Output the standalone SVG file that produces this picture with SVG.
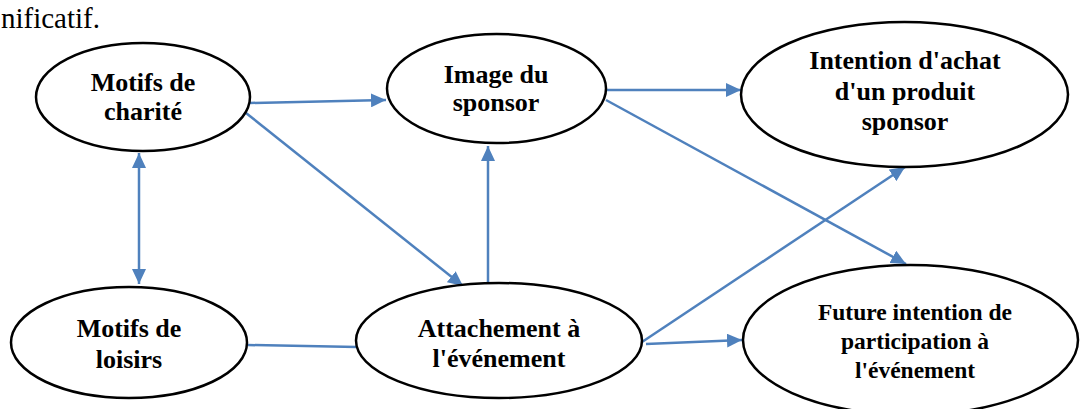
<svg xmlns="http://www.w3.org/2000/svg" width="1081" height="409" viewBox="0 0 1081 409">
  <style>
    .node ellipse { fill: #ffffff; stroke: #000000; stroke-width: 2.5; }
    .node text { font-family: "Liberation Serif", "Times New Roman", serif; font-weight: bold; font-size: 26px; fill: #000000; text-anchor: middle; }
    .node text.small { font-size: 23.5px; }
    .edge { stroke: #4f81bd; stroke-width: 2.5; fill: none; }
    .arrow { marker-end: url(#head); }
    .body { font-family: "Liberation Serif", "Times New Roman", serif; font-size: 29px; fill: #000000; }
  </style>
  <defs>
    <marker id="head" markerUnits="userSpaceOnUse" markerWidth="16" markerHeight="14" refX="15" refY="7" orient="auto-start-reverse">
      <path d="M0,0 L15,7 L0,14 z" fill="#4f81bd"/>
    </marker>
  </defs>

  <rect width="1081" height="409" fill="#ffffff"/>

  <!-- tail of the preceding paragraph -->
  <text class="body" x="100" y="28" text-anchor="end">nificatif.</text>

  <!-- connectors -->
  <g id="connectors">
    <line class="edge arrow" x1="250" y1="103" x2="386" y2="100"/>
    <line class="edge arrow" x1="246" y1="113" x2="463" y2="286"/>
    <line class="edge arrow" x1="139" y1="153" x2="139" y2="284" marker-start="url(#head)"/>
    <line class="edge" x1="248" y1="345" x2="357" y2="347"/>
    <line class="edge arrow" x1="488" y1="284" x2="488" y2="146"/>
    <line class="edge arrow" x1="606" y1="90" x2="741" y2="90"/>
    <line class="edge arrow" x1="606" y1="100" x2="906" y2="264"/>
    <line class="edge arrow" x1="642" y1="342" x2="905" y2="167"/>
    <line class="edge arrow" x1="646" y1="344" x2="742" y2="340"/>
  </g>

  <g id="motifs-charite" class="node">
    <ellipse cx="143" cy="97" rx="107" ry="54"/>
    <text x="143" y="91">Motifs de</text>
    <text x="143" y="120">charité</text>
  </g>

  <g id="image-sponsor" class="node">
    <ellipse cx="496.5" cy="88.5" rx="109.5" ry="54.5"/>
    <text x="496" y="83">Image du</text>
    <text x="496" y="111">sponsor</text>
  </g>

  <g id="intention-achat" class="node">
    <ellipse cx="904.5" cy="94.5" rx="163.5" ry="72.5"/>
    <text x="905" y="69">Intention d'achat</text>
    <text x="905" y="100">d'un produit</text>
    <text x="905" y="130">sponsor</text>
  </g>

  <g id="motifs-loisirs" class="node">
    <ellipse cx="129" cy="342.5" rx="118" ry="55.5"/>
    <text x="129" y="337">Motifs de</text>
    <text x="129" y="368">loisirs</text>
  </g>

  <g id="attachement" class="node">
    <ellipse cx="499" cy="340.5" rx="143" ry="57.5"/>
    <text x="499" y="337">Attachement à</text>
    <text x="499" y="367">l'événement</text>
  </g>

  <g id="future-intention" class="node">
    <ellipse cx="910.5" cy="340" rx="167.5" ry="75"/>
    <text class="small" x="915" y="320">Future intention de</text>
    <text class="small" x="915" y="349">participation à</text>
    <text class="small" x="915" y="378">l'événement</text>
  </g>
</svg>
